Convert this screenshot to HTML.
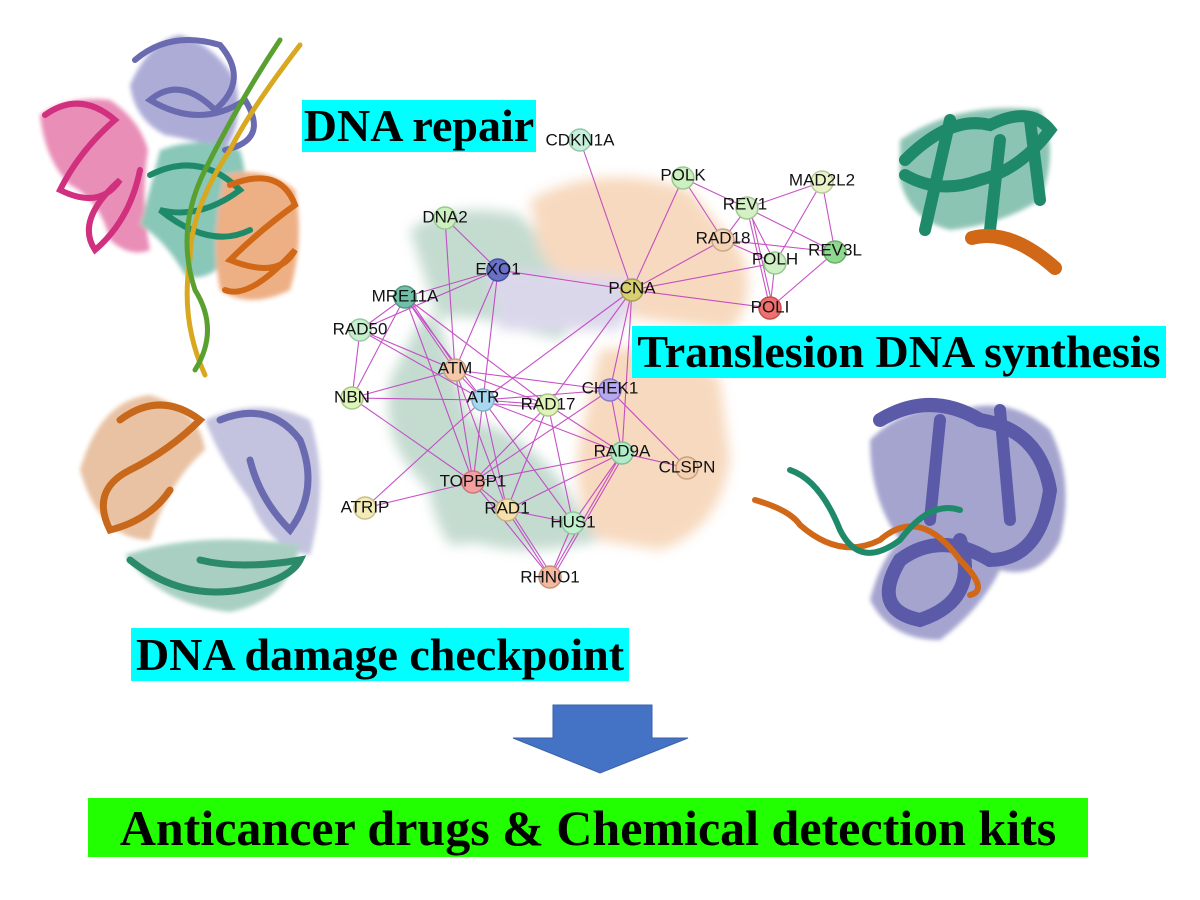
<!DOCTYPE html>
<html><head><meta charset="utf-8"><style>
body{margin:0;width:1200px;height:900px;background:#fff;position:relative;overflow:hidden;font-family:"Liberation Serif",serif}
.lab{position:absolute;font-weight:bold;color:#000;white-space:nowrap;line-height:1;display:flex;align-items:center;justify-content:center}
svg{position:absolute;left:0;top:0}
</style></head><body>
<svg width="1200" height="900" viewBox="0 0 1200 900">
<defs><filter id="bl"><feGaussianBlur stdDeviation="6"/></filter><filter id="b2"><feGaussianBlur stdDeviation="2"/></filter></defs>
<g filter="url(#bl)" opacity="0.35">
<path d="M410 230 Q450 200 520 215 L560 260 Q600 300 560 340 L520 330 Q470 310 420 320 L390 380 Q380 440 420 480 L470 540 Q520 560 600 540 L560 480 Q520 430 470 420 Z" fill="#5a9a7a"/>
<path d="M530 200 Q600 160 690 190 L740 250 Q760 300 730 330 L650 320 L600 310 Q560 280 540 250 Z" fill="#e8944a"/>
<path d="M600 350 Q680 340 720 380 L730 460 Q720 530 660 550 L600 540 Q570 500 580 440 Z" fill="#e8944a"/>
<path d="M490 270 L640 280 L620 330 L500 330 Z" fill="#9a90c8"/>
<path d="M430 440 Q480 470 520 540 L450 545 Q420 500 430 440 Z" fill="#5a9a7a"/>
</g>
<!-- top-left protein: filled masses -->
<g filter="url(#b2)" opacity="0.55">
<path d="M40 115 Q70 95 110 100 Q140 120 148 150 Q140 200 150 250 Q130 258 110 240 Q100 200 70 185 Q45 160 40 115 Z" fill="#d8307e"/>
<path d="M130 85 Q150 40 180 35 Q215 45 235 80 Q245 120 225 150 Q195 140 165 135 Q135 120 130 85 Z" fill="#6a6ab8"/>
<path d="M160 150 Q200 135 240 150 Q255 200 235 250 Q210 285 185 275 Q165 240 140 225 Q150 190 160 150 Z" fill="#2a9a80"/>
<path d="M225 175 Q265 165 295 190 Q305 240 290 290 Q250 310 220 290 Q210 240 225 175 Z" fill="#e07020"/>
</g>
<g fill="none" stroke-width="6" stroke-linecap="round">
<path d="M45 115 Q80 90 115 120 Q80 150 60 190 Q100 210 120 180 Q75 220 95 250 Q130 220 140 170" stroke="#d0307e"/>
<path d="M135 60 Q170 30 220 45 Q250 80 215 110 Q180 75 150 100 Q200 130 245 100 Q270 140 225 150" stroke="#6a6ab0"/>
<path d="M150 175 Q200 150 240 190 Q200 220 160 210 Q210 250 250 230" stroke="#1f8a6a"/>
<path d="M230 185 Q280 165 295 205 Q260 230 230 260 Q280 280 295 250 Q250 300 225 290" stroke="#d06818"/>
<path d="M300 45 Q250 110 230 150 Q190 210 190 260 Q180 320 205 375" stroke="#d8a820" stroke-width="5"/>
<path d="M280 40 Q240 100 205 170 Q175 230 195 290 Q220 330 195 370" stroke="#5aa030" stroke-width="5"/>
</g>
<!-- top-right protein -->
<g filter="url(#b2)" opacity="0.5"><path d="M900 140 Q960 100 1040 110 Q1060 150 1040 200 Q1000 225 950 230 Q910 220 900 180 Z" fill="#1f8a6a"/></g>
<g fill="none" stroke-linecap="round">
<path d="M905 160 Q950 115 990 125 Q1030 105 1050 130 Q1020 170 980 180 Q940 195 905 175 M950 120 L925 230 M1000 140 L990 230 M1030 120 L1040 200" stroke="#1f8a6a" stroke-width="12"/>
<path d="M972 238 Q1010 228 1055 268" stroke="#d06818" stroke-width="14"/>
</g>
<!-- left ring -->
<g filter="url(#b2)" opacity="0.4">
<path d="M80 470 Q100 400 150 395 Q200 410 205 450 Q170 480 150 540 Q100 540 80 470 Z" fill="#c8681a"/>
<path d="M205 420 Q260 395 310 420 Q330 480 310 555 Q270 550 250 500 Q220 460 205 420 Z" fill="#6a6ab0"/>
<path d="M125 555 Q200 530 300 545 Q290 600 230 612 Q160 605 125 555 Z" fill="#2a8a6a"/>
</g>
<g fill="none" stroke-width="7" stroke-linecap="round">
<path d="M120 420 Q160 390 200 420 Q170 450 130 470 Q90 490 110 530 Q150 520 170 490" stroke="#c8681a"/>
<path d="M220 420 Q270 400 300 440 Q320 490 290 530 Q260 500 250 460" stroke="#6a6ab0"/>
<path d="M130 560 Q180 600 240 590 Q290 580 300 560 Q240 570 200 560" stroke="#2a8a6a"/>
</g>
<!-- right protein -->
<g filter="url(#b2)" opacity="0.55">
<path d="M870 440 Q910 400 960 410 Q1010 395 1050 430 Q1075 480 1060 540 Q1040 580 1000 570 Q980 610 940 640 Q890 640 870 600 Q880 560 900 540 Q870 500 870 440 Z" fill="#5a5aa8"/>
</g>
<g fill="none" stroke-linecap="round">
<path d="M880 420 Q930 390 980 420 Q1040 430 1050 490 Q1040 560 990 560 Q940 530 900 560 Q870 610 920 620 Q980 600 960 540" stroke="#5a5aa8" stroke-width="14"/>
<path d="M940 420 L930 520 M1000 410 L1010 520" stroke="#5a5aa8" stroke-width="12"/>
<path d="M755 500 Q790 510 800 525 Q840 560 880 540 Q920 505 960 560 Q990 590 970 595" stroke="#d06818" stroke-width="6"/>
<path d="M790 470 Q820 480 840 530 Q860 570 900 540 Q930 500 960 510" stroke="#1f8a6a" stroke-width="6"/>
</g>
<!-- edges -->
<g stroke="#c040c0" stroke-width="1.1" fill="none" opacity="0.9">
<line x1="580" y1="140" x2="632" y2="290"/><line x1="683" y1="178" x2="632" y2="290"/>
<line x1="683" y1="178" x2="747" y2="208"/><line x1="683" y1="178" x2="723" y2="240"/>
<line x1="747" y1="208" x2="822" y2="182"/><line x1="747" y1="208" x2="723" y2="240"/>
<line x1="747" y1="208" x2="775" y2="263"/><line x1="747" y1="208" x2="770" y2="308"/>
<line x1="750" y1="208" x2="773" y2="308"/><line x1="747" y1="208" x2="835" y2="252"/>
<line x1="822" y1="182" x2="775" y2="263"/><line x1="822" y1="182" x2="835" y2="252"/>
<line x1="723" y1="240" x2="632" y2="290"/><line x1="723" y1="240" x2="775" y2="263"/>
<line x1="723" y1="240" x2="835" y2="252"/><line x1="775" y1="263" x2="632" y2="290"/>
<line x1="775" y1="263" x2="770" y2="308"/><line x1="835" y1="252" x2="770" y2="308"/>
<line x1="632" y1="290" x2="770" y2="308"/><line x1="632" y1="290" x2="498" y2="270"/>
<line x1="632" y1="290" x2="483" y2="400"/><line x1="632" y1="290" x2="548" y2="405"/>
<line x1="632" y1="290" x2="610" y2="390"/><line x1="632" y1="290" x2="622" y2="453"/>
<line x1="445" y1="218" x2="498" y2="270"/><line x1="445" y1="218" x2="455" y2="370"/>
<line x1="498" y1="270" x2="405" y2="297"/><line x1="498" y1="270" x2="360" y2="330"/>
<line x1="498" y1="270" x2="455" y2="370"/><line x1="498" y1="270" x2="483" y2="400"/>
<line x1="405" y1="297" x2="360" y2="330"/><line x1="405" y1="297" x2="352" y2="398"/>
<line x1="405" y1="297" x2="455" y2="370"/><line x1="408" y1="297" x2="458" y2="370"/>
<line x1="405" y1="297" x2="483" y2="400"/><line x1="405" y1="297" x2="548" y2="405"/>
<line x1="405" y1="297" x2="473" y2="482"/><line x1="360" y1="330" x2="352" y2="398"/>
<line x1="360" y1="330" x2="455" y2="370"/><line x1="360" y1="330" x2="483" y2="400"/>
<line x1="455" y1="370" x2="352" y2="398"/><line x1="455" y1="370" x2="610" y2="390"/>
<line x1="455" y1="370" x2="548" y2="405"/><line x1="455" y1="370" x2="473" y2="482"/>
<line x1="455" y1="370" x2="507" y2="510"/><line x1="455" y1="370" x2="483" y2="400"/>
<line x1="352" y1="398" x2="483" y2="400"/><line x1="352" y1="398" x2="473" y2="482"/>
<line x1="483" y1="400" x2="548" y2="405"/><line x1="483" y1="403" x2="548" y2="408"/>
<line x1="483" y1="400" x2="610" y2="390"/><line x1="483" y1="400" x2="473" y2="482"/>
<line x1="483" y1="400" x2="365" y2="508"/><line x1="483" y1="400" x2="507" y2="510"/>
<line x1="483" y1="400" x2="573" y2="523"/><line x1="483" y1="400" x2="622" y2="453"/>
<line x1="548" y1="405" x2="622" y2="453"/><line x1="548" y1="405" x2="507" y2="510"/>
<line x1="548" y1="405" x2="573" y2="523"/><line x1="548" y1="405" x2="473" y2="482"/>
<line x1="610" y1="390" x2="687" y2="468"/><line x1="610" y1="390" x2="473" y2="482"/>
<line x1="610" y1="390" x2="622" y2="453"/><line x1="622" y1="453" x2="473" y2="482"/>
<line x1="622" y1="453" x2="507" y2="510"/><line x1="622" y1="453" x2="573" y2="523"/>
<line x1="622" y1="453" x2="550" y2="577"/><line x1="625" y1="453" x2="553" y2="577"/>
<line x1="622" y1="453" x2="687" y2="468"/><line x1="473" y1="482" x2="365" y2="508"/>
<line x1="473" y1="482" x2="507" y2="510"/><line x1="473" y1="482" x2="550" y2="577"/>
<line x1="507" y1="510" x2="573" y2="523"/><line x1="507" y1="510" x2="550" y2="577"/>
<line x1="510" y1="510" x2="553" y2="577"/><line x1="573" y1="523" x2="550" y2="577"/>
</g>
<!-- nodes -->
<g stroke-width="1.5" font-family="Liberation Sans, sans-serif" font-size="17" text-anchor="middle" dominant-baseline="central" fill="#111">
<circle cx="580" cy="140" r="11" fill="#c8f0dc" stroke="#8cc8a8"/>
<circle cx="683" cy="178" r="11" fill="#ccf0c0" stroke="#98c890"/>
<circle cx="822" cy="182" r="11" fill="#e8f4c8" stroke="#b8c898"/>
<circle cx="747" cy="208" r="11" fill="#d4f0c4" stroke="#a0c890"/>
<circle cx="723" cy="240" r="11" fill="#f4d4b4" stroke="#c8a888"/>
<circle cx="775" cy="263" r="11" fill="#cff0c4" stroke="#98c890"/>
<circle cx="835" cy="252" r="11" fill="#90d890" stroke="#68b068"/>
<circle cx="770" cy="308" r="11" fill="#f07070" stroke="#c05050"/>
<circle cx="632" cy="290" r="11" fill="#d8d070" stroke="#a8a050"/>
<circle cx="445" cy="218" r="11" fill="#cdf0c0" stroke="#98c890"/>
<circle cx="498" cy="270" r="11" fill="#6870c8" stroke="#4850a0"/>
<circle cx="405" cy="297" r="11" fill="#70c0a8" stroke="#509880"/>
<circle cx="360" cy="330" r="11" fill="#c8f0d0" stroke="#98c8a0"/>
<circle cx="455" cy="370" r="11" fill="#f4c8a8" stroke="#c8a080"/>
<circle cx="352" cy="398" r="11" fill="#def4b8" stroke="#a8c888"/>
<circle cx="483" cy="400" r="11" fill="#a8d8f0" stroke="#80b0c8"/>
<circle cx="548" cy="405" r="11" fill="#e0f4b8" stroke="#a8c888"/>
<circle cx="610" cy="390" r="11" fill="#b8a8f0" stroke="#8878c8"/>
<circle cx="622" cy="453" r="11" fill="#b0ecc8" stroke="#80c098"/>
<circle cx="687" cy="468" r="11" fill="#f4d0b0" stroke="#c8a080"/>
<circle cx="473" cy="482" r="11" fill="#f4a0a0" stroke="#c87878"/>
<circle cx="365" cy="508" r="11" fill="#f4ecb8" stroke="#c8c088"/>
<circle cx="507" cy="510" r="11" fill="#f4e0a8" stroke="#c8b080"/>
<circle cx="573" cy="523" r="11" fill="#c0f0d0" stroke="#90c8a0"/>
<circle cx="550" cy="577" r="11" fill="#f4b8a0" stroke="#c89078"/>
<g stroke="none">
<text x="580" y="140">CDKN1A</text><text x="683" y="175">POLK</text>
<text x="822" y="180">MAD2L2</text><text x="745" y="204">REV1</text>
<text x="723" y="238">RAD18</text><text x="775" y="259">POLH</text>
<text x="835" y="250">REV3L</text><text x="770" y="307">POLI</text>
<text x="632" y="288">PCNA</text><text x="445" y="217">DNA2</text>
<text x="498" y="269">EXO1</text><text x="405" y="296">MRE11A</text>
<text x="360" y="329">RAD50</text><text x="455" y="368">ATM</text>
<text x="352" y="397">NBN</text><text x="483" y="397">ATR</text>
<text x="548" y="404">RAD17</text><text x="610" y="388">CHEK1</text>
<text x="622" y="451">RAD9A</text><text x="687" y="467">CLSPN</text>
<text x="473" y="481">TOPBP1</text><text x="365" y="507">ATRIP</text>
<text x="507" y="508">RAD1</text><text x="573" y="522">HUS1</text>
<text x="550" y="577">RHNO1</text>
</g></g>
<path d="M553 705 H652 V738 H688 L600 773 L513 738 H553 Z" fill="#4472c4" stroke="#3a62aa" stroke-width="1"/>
</svg>
<div class="lab" style="left:302px;top:100px;width:234px;height:52px;background:#00ffff;font-size:46px">DNA repair</div>
<div class="lab" style="left:632px;top:326px;width:534px;height:52px;background:#00ffff;font-size:46px">Translesion DNA synthesis</div>
<div class="lab" style="left:131px;top:628px;width:498px;height:53px;background:#00ffff;font-size:46px">DNA damage checkpoint</div>
<div class="lab" style="left:88px;top:798px;width:1000px;height:59px;background:#22ff00;font-size:50px">Anticancer drugs &amp; Chemical detection kits</div>
</body></html>
